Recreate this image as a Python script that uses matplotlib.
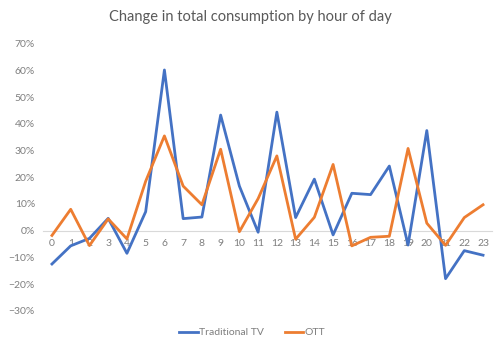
import matplotlib
matplotlib.use("Agg")
from matplotlib import pyplot as plt
from matplotlib.ticker import PercentFormatter

hours = list(range(24))
traditional_tv = [-12.5, -5.7, -2.9, 4.6, -8.5, 7.1, 60.2, 4.5, 5.1, 43.3, 16.7, -0.6,
                  44.4, 4.9, 19.3, -1.6, 14.0, 13.5, 24.2, -5.4, 37.5, -18.0, -7.5, -9.2]
ott = [-1.8, 8.0, -5.6, 4.4, -3.1, 18.5, 35.5, 16.7, 9.7, 30.5, -0.4, 12.0,
       28.0, -3.2, 5.0, 24.8, -5.7, -2.5, -2.1, 30.8, 2.8, -5.5, 4.9, 9.7]

grey = '#7f7f7f'
plt.rcParams['font.family'] = ['Lato', 'DejaVu Sans']

fig = plt.figure(figsize=(5.04, 3.45), dpi=100)
ax = fig.add_axes([0.0845, 0.0994, 0.8925, 0.7736])

ax.plot(hours, traditional_tv, color='#4472C4', lw=2, label='Traditional TV')
ax.plot(hours, ott, color='#ED7D31', lw=2, label='OTT')

ax.set_xlim(-0.5, 23.5)
ax.set_ylim(-30, 70)
ax.set_yticks(range(-30, 71, 10))
ax.yaxis.set_major_formatter(PercentFormatter(decimals=0))
ax.set_xticks(hours)

for s in ['top', 'right', 'left']:
    ax.spines[s].set_visible(False)
ax.spines['bottom'].set_position(('data', 0))
ax.spines['bottom'].set_color('#d9d9d9')
ax.spines['bottom'].set_zorder(0)
ax.tick_params(length=0, labelcolor=grey, labelsize=7.5)
ax.tick_params(axis='x', pad=6)
ax.tick_params(axis='y', pad=5.5)

fig.suptitle('Change in total consumption by hour of day', x=0.497, y=0.97,
             color='#595959', fontsize=10.5)
fig.legend(loc='lower center', bbox_to_anchor=(0.5, -0.005), ncol=2, frameon=False,
           fontsize=7.5, labelcolor=grey, handlelength=1.8, handletextpad=0.1,
           columnspacing=2.0)

fig.savefig('out.png', dpi=100)
